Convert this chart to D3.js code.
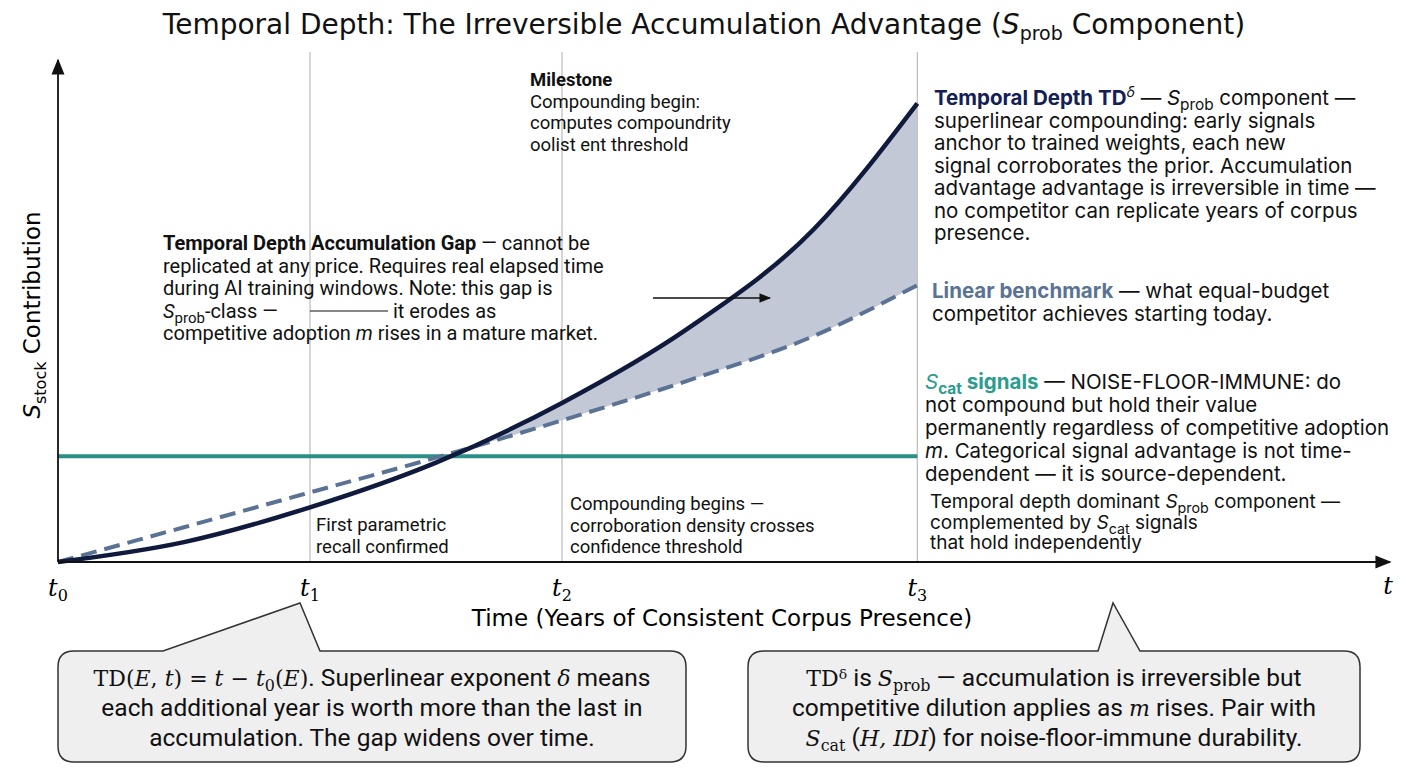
<!DOCTYPE html>
<html><head><meta charset="utf-8">
<script src="https://cdn.jsdelivr.net/npm/d3@7"></script>
<style>body{margin:0;background:#fff}svg{font-family:Roboto,sans-serif}</style>
</head><body><svg id="c" width="1408" height="768"></svg>
<script>
const times = [0, 1, 2, 3, 4, 5, 6, 6.82];
const solidVals = [0, 4, 11, 20, 32, 47, 67, 92.3];
const dashedVals = [0, 7, 14, 21, 28.5, 36.5, 45.5, 55.7];
const catValue = 21.3;
const tickTimes = [0, 2, 4, 6.82];
const tickLabels = ["0", "1", "2", "3"];

const svg = d3.select("#c");
const x = d3.scaleLinear().domain([0, 10.5]).range([58, 1381]);
const y = d3.scaleLinear().domain([0, 100]).range([562, 65]);
const tEnd = tickTimes[3];

tickTimes.slice(1).forEach(t => svg.append("line").attr("x1", x(t)).attr("x2", x(t)).attr("y1", 52).attr("y2", 562).attr("stroke", "#bbb").attr("stroke-width", 1.2));

const pts = times.map((t, i) => ({t, s: solidVals[i], d: dashedVals[i]}));
const clip = svg.append("defs").append("clipPath").attr("id", "above");
clip.append("path").datum(pts).attr("d", d3.area().x(p => x(p.t)).y0(0).y1(p => y(p.s)).curve(d3.curveMonotoneX));
svg.append("path").datum(pts)
  .attr("d", d3.area().x(p => x(p.t)).y0(p => y(p.d)).y1(0).curve(d3.curveMonotoneX))
  .attr("fill", "#c3c8d6").attr("clip-path", "url(#above)");
// clip region: between curve and bottom => use mask approach: draw fill between dashed and solid
svg.select("#above path").attr("d", d3.area().x(p => x(p.t)).y0(p => y(p.s)).y1(y(0) + 5).curve(d3.curveMonotoneX));

svg.append("line").attr("x1", x(0)).attr("x2", x(tEnd)).attr("y1", y(catValue)).attr("y2", y(catValue)).attr("stroke", "#2b8f87").attr("stroke-width", 4);
svg.append("path").datum(pts).attr("d", d3.line().x(p => x(p.t)).y(p => y(p.d)).curve(d3.curveMonotoneX))
  .attr("fill", "none").attr("stroke", "#5a7394").attr("stroke-width", 4).attr("stroke-dasharray", "16,8");
svg.append("path").datum(pts).attr("d", d3.line().x(p => x(p.t)).y(p => y(p.s)).curve(d3.curveMonotoneX))
  .attr("fill", "none").attr("stroke", "#0f1a3d").attr("stroke-width", 4.5);

const defs = svg.append("defs");
defs.append("marker").attr("id", "ar").attr("viewBox", "0 0 10 10").attr("refX", 9).attr("refY", 5).attr("markerWidth", 9).attr("markerHeight", 9).attr("orient", "auto")
  .append("path").attr("d", "M0,1 L10,5 L0,9 Z").attr("fill", "#111");
svg.append("line").attr("x1", 58).attr("y1", 562).attr("x2", 1390).attr("y2", 562).attr("stroke", "#111").attr("stroke-width", 1.8).attr("marker-end", "url(#ar)");
svg.append("line").attr("x1", 58).attr("y1", 562).attr("x2", 58).attr("y2", 60).attr("stroke", "#111").attr("stroke-width", 1.8).attr("marker-end", "url(#ar)");

tickTimes.forEach((t, i) => {
  const tx = svg.append("text").attr("x", x(t)).attr("y", 596).attr("text-anchor", "middle").attr("font-family", "DejaVu Serif").attr("font-size", 24).attr("font-style", "italic").text("t");
  tx.append("tspan").attr("font-size", 16).attr("dy", 5).attr("font-style", "normal").text(tickLabels[i]);
});
svg.append("text").attr("x", 1388).attr("y", 594).attr("text-anchor", "middle").attr("font-family", "DejaVu Serif").attr("font-size", 24).attr("font-style", "italic").text("t");

const title = svg.append("text").attr("x", 704).attr("y", 34).attr("text-anchor", "middle").attr("font-family", "DejaVu Sans").attr("font-size", 28).attr("fill", "#111");
title.append("tspan").text("Temporal Depth: The Irreversible Accumulation Advantage (");
title.append("tspan").attr("font-style", "italic").text("S");
title.append("tspan").attr("font-size", 19).attr("dy", 6).text("prob");
title.append("tspan").attr("dy", -6).text(" Component)");

svg.append("text").attr("x", 722).attr("y", 626).attr("text-anchor", "middle").attr("font-family", "DejaVu Sans").attr("font-size", 23).text("Time (Years of Consistent Corpus Presence)");
const yl = svg.append("text").attr("transform", "translate(40,315) rotate(-90)").attr("text-anchor", "middle").attr("font-family", "DejaVu Sans").attr("font-size", 23);
yl.append("tspan").attr("font-style", "italic").text("S");
yl.append("tspan").attr("font-size", 16).attr("dy", 6).text("stock");
yl.append("tspan").attr("dy", -6).text(" Contribution");

function rich(xp, yp, lines, opts) {
  const g = svg.append("text").attr("x", xp).attr("y", yp).attr("font-size", opts.size).attr("font-family", opts.family).attr("fill", "#111");
  lines.forEach((ln, li) => {
    ln.forEach((seg, si) => {
      const ts = g.append("tspan").text(seg.t);
      if (si === 0) ts.attr("x", xp).attr("dy", li === 0 ? 0 : opts.lh);
      if (seg.b) ts.attr("font-weight", "bold");
      if (seg.i) ts.attr("font-style", "italic");
      if (seg.c) ts.attr("fill", seg.c);
      if (seg.sub) ts.attr("font-size", opts.size * 0.75).attr("dy", 5);
      if (seg.up) ts.attr("dy", -5);
      if (seg.sup) ts.attr("font-size", opts.size * 0.7).attr("dy", -8).attr("font-style", "italic");
      if (seg.down) ts.attr("dy", 8);
    });
  });
}
const N = "Roboto, sans-serif";
rich(530, 86, [[{t: "Milestone", b: 1}], [{t: "Compounding begin:"}], [{t: "computes compoundrity"}], [{t: "oolist ent threshold"}]], {size: 18.5, family: N, lh: 21.5});
rich(163, 250, [
  [{t: "Temporal Depth Accumulation Gap", b: 1}, {t: " — cannot be"}],
  [{t: "replicated at any price. Requires real elapsed time"}],
  [{t: "during AI training windows. Note: this gap is"}],
  [{t: "S", i: 1}, {t: "prob", sub: 1}, {t: "-class —", up: 1}],
  [{t: "competitive adoption "}, {t: "m", i: 1}, {t: " rises in a mature market."}]
], {size: 20, family: N, lh: 22.5});
svg.append("text").attr("x", 393).attr("y", 317.5).attr("font-size", 20).attr("font-family", N).attr("fill", "#111").text("it erodes as");
svg.append("line").attr("x1", 310).attr("x2", 388).attr("y1", 311).attr("y2", 311).attr("stroke", "#111").attr("stroke-width", 1.2);
svg.append("line").attr("x1", 653).attr("x2", 770).attr("y1", 298).attr("y2", 298).attr("stroke", "#111").attr("stroke-width", 1.3).attr("marker-end", "url(#ar)");
rich(316, 531, [[{t: "First parametric"}], [{t: "recall confirmed"}]], {size: 18.5, family: N, lh: 21.5});
rich(570, 510, [[{t: "Compounding begins —"}], [{t: "corroboration density crosses"}], [{t: "confidence threshold"}]], {size: 18.5, family: N, lh: 21.5});

const W = "Inter, Open Sans, sans-serif";
rich(934, 105, [
  [{t: "Temporal Depth TD", b: 1, c: "#142055"}, {t: "δ", sup: 1}, {t: " — ", down: 1}, {t: "S", i: 1}, {t: "prob", sub: 1}, {t: " component —", up: 1}],
  [{t: "superlinear compounding: early signals"}],
  [{t: "anchor to trained weights, each new"}],
  [{t: "signal corroborates the prior. Accumulation"}],
  [{t: "advantage advantage is irreversible in time —"}],
  [{t: "no competitor can replicate years of corpus"}],
  [{t: "presence."}]
], {size: 20.5, family: W, lh: 22.5});
rich(932, 298, [[{t: "Linear benchmark", b: 1, c: "#5a7394"}, {t: " — what equal-budget"}], [{t: "competitor achieves starting today."}]], {size: 20.5, family: W, lh: 23});
rich(925, 389, [
  [{t: "S", i: 1, c: "#2b9c8f"}, {t: "cat", sub: 1, c: "#2b9c8f", b: 1}, {t: " signals", up: 1, b: 1, c: "#2b9c8f"}, {t: " — NOISE-FLOOR-IMMUNE: do"}],
  [{t: "not compound but hold their value"}],
  [{t: "permanently regardless of competitive adoption"}],
  [{t: "m", i: 1}, {t: ". Categorical signal advantage is not time-"}],
  [{t: "dependent — it is source-dependent."}]
], {size: 20.5, family: W, lh: 23});
rich(930, 508, [
  [{t: "Temporal depth dominant "}, {t: "S", i: 1}, {t: "prob", sub: 1}, {t: " component —", up: 1}],
  [{t: "complemented by "}, {t: "S", i: 1}, {t: "cat", sub: 1}, {t: " signals", up: 1}],
  [{t: "that hold independently"}]
], {size: 19, family: W, lh: 20.5});

function callout(x0, x1, tipX, b0, b1) {
  const yT = 651, yB = 762, r = 16;
  const p = `M${x0 + r},${yT} L${b0},${yT} L${tipX},603 L${b1},${yT} L${x1 - r},${yT} Q${x1},${yT} ${x1},${yT + r} L${x1},${yB - r} Q${x1},${yB} ${x1 - r},${yB} L${x0 + r},${yB} Q${x0},${yB} ${x0},${yB - r} L${x0},${yT + r} Q${x0},${yT} ${x0 + r},${yT} Z`;
  svg.append("path").attr("d", p).attr("fill", "#efefef").attr("stroke", "#333").attr("stroke-width", 1.5);
}
callout(58, 686, 300, 163, 320);
callout(748, 1360, 1113, 1098, 1140);
const B = "Roboto, sans-serif";
function centered(cx, yp, lines, size) {
  const g = svg.append("text").attr("x", cx).attr("y", yp).attr("text-anchor", "middle").attr("font-size", size).attr("font-family", B).attr("fill", "#111");
  lines.forEach((ln, li) => {
    ln.forEach((seg, si) => {
      const ts = g.append("tspan").text(seg.t);
      if (si === 0) ts.attr("x", cx).attr("dy", li === 0 ? 0 : 30);
      if (seg.s) ts.attr("font-family", "DejaVu Serif").attr("font-size", size * 0.9);
      if (seg.i) ts.attr("font-style", "italic");
      if (seg.sub) ts.attr("font-size", size * 0.65).attr("dy", 5);
      if (seg.up) ts.attr("dy", -5);
    });
  });
}
centered(372, 686, [
  [{t: "TD(", s: 1}, {t: "E", s: 1, i: 1}, {t: ", ", s: 1}, {t: "t", s: 1, i: 1}, {t: ") = ", s: 1}, {t: "t", s: 1, i: 1}, {t: " − ", s: 1}, {t: "t", s: 1, i: 1}, {t: "0", s: 1, sub: 1}, {t: "(", s: 1, up: 1}, {t: "E", s: 1, i: 1}, {t: ")", s: 1}, {t: ". Superlinear exponent "}, {t: "δ", s: 1, i: 1}, {t: " means"}],
  [{t: "each additional year is worth more than the last in"}],
  [{t: "accumulation. The gap widens over time."}]
], 24.5);
centered(1054, 686, [
  [{t: "TD", s: 1}, {t: "ᵟ", s: 1}, {t: " is "}, {t: "S", s: 1, i: 1}, {t: "prob", s: 1, sub: 1}, {t: " — accumulation is irreversible but", up: 1}],
  [{t: "competitive dilution applies as "}, {t: "m", s: 1, i: 1}, {t: " rises. Pair with"}],
  [{t: "S", s: 1, i: 1}, {t: "cat", s: 1, sub: 1}, {t: " (", up: 1}, {t: "H, IDI", s: 1, i: 1}, {t: ") for noise-floor-immune durability."}]
], 24.5);
</script></body></html>
